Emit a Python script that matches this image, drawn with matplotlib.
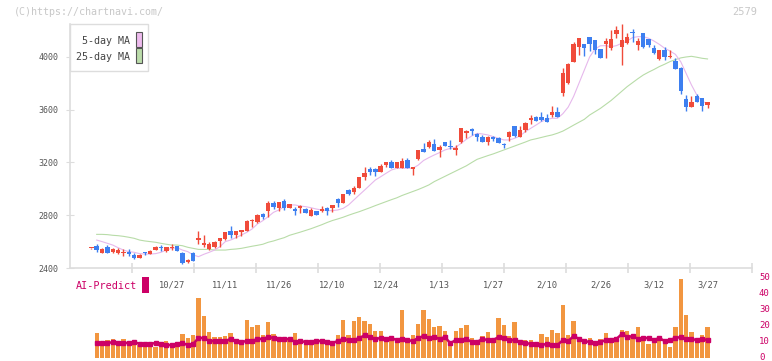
import numpy as np
import matplotlib
matplotlib.use('Agg')
import matplotlib.pyplot as plt
from matplotlib.patches import Rectangle
from matplotlib.transforms import ScaledTranslation

plt.rcParams['font.family'] = 'DejaVu Sans Mono'

# OHLC por dia (116 pregoes)
opens = [2548, 2567, 2516, 2562, 2524, 2516, 2511, 2524, 2499, 2478,
         2518, 2506, 2536, 2557, 2531, 2554, 2567, 2516, 2448, 2511,
         2612, 2574, 2544, 2562, 2605, 2617, 2680, 2650, 2675, 2680,
         2754, 2746, 2809, 2832, 2890, 2852, 2908, 2852, 2845, 2852,
         2847, 2797, 2835, 2835, 2852, 2857, 2923, 2895, 2991, 2979,
         3004, 3092, 3148, 3148, 3130, 3181, 3206, 3156, 3161, 3219,
         3148, 3224, 3302, 3315, 3340, 3295, 3358, 3328, 3295, 3353,
         3426, 3451, 3416, 3396, 3358, 3391, 3383, 3340, 3391, 3477,
         3396, 3446, 3522, 3548, 3543, 3540, 3560, 3585, 3730, 3800,
         3965, 4078, 4099, 4149, 4129, 4061, 4096, 4066, 4174, 4078,
         4109, 4192, 4091, 4179, 4137, 4071, 3985, 4053, 4000, 3970,
         3919, 3681, 3623, 3704, 3686, 3636]
highs = [2550, 2582, 2554, 2574, 2554, 2549, 2544, 2544, 2511, 2506,
         2524, 2536, 2567, 2574, 2562, 2579, 2567, 2524, 2468, 2524,
         2680, 2650, 2600, 2605, 2630, 2675, 2718, 2680, 2688, 2764,
         2769, 2807, 2814, 2908, 2908, 2898, 2923, 2885, 2865, 2878,
         2852, 2852, 2835, 2870, 2865, 2878, 2933, 2961, 2999, 3022,
         3092, 3163, 3163, 3161, 3189, 3206, 3219, 3206, 3232, 3232,
         3168, 3295, 3345, 3371, 3376, 3333, 3358, 3371, 3333, 3464,
         3446, 3464, 3426, 3409, 3401, 3401, 3396, 3345, 3439, 3477,
         3477, 3510, 3560, 3553, 3585, 3565, 3628, 3623, 3914, 3952,
         4116, 4142, 4099, 4149, 4129, 4061, 4142, 4205, 4235, 4250,
         4179, 4210, 4142, 4179, 4137, 4091, 4053, 4073, 4053, 3990,
         3927, 3712, 3704, 3717, 3686, 3661]
lows = [2546, 2524, 2516, 2516, 2511, 2506, 2491, 2491, 2466, 2473,
        2499, 2506, 2536, 2531, 2519, 2536, 2531, 2430, 2435, 2455,
        2580, 2562, 2536, 2549, 2562, 2612, 2630, 2630, 2643, 2680,
        2713, 2739, 2771, 2789, 2847, 2835, 2840, 2852, 2802, 2819,
        2819, 2797, 2802, 2822, 2802, 2822, 2865, 2895, 2954, 2961,
        3004, 3067, 3105, 3100, 3125, 3168, 3156, 3156, 3161, 3161,
        3105, 3219, 3282, 3307, 3290, 3244, 3328, 3300, 3257, 3350,
        3388, 3409, 3363, 3358, 3333, 3366, 3345, 3312, 3366, 3396,
        3396, 3434, 3492, 3517, 3515, 3510, 3548, 3548, 3704, 3795,
        3965, 4015, 4008, 4048, 4020, 3990, 3995, 4053, 4142, 3939,
        4096, 4116, 4053, 4066, 4078, 4020, 3977, 3977, 3995, 3909,
        3717, 3590, 3623, 3656, 3590, 3616]
closes = [2550, 2537, 2544, 2516, 2544, 2536, 2524, 2506, 2473, 2499,
          2514, 2531, 2562, 2549, 2562, 2562, 2531, 2440, 2461, 2455,
          2630, 2587, 2582, 2600, 2630, 2670, 2650, 2680, 2688, 2756,
          2758, 2802, 2789, 2890, 2860, 2898, 2852, 2885, 2835, 2870,
          2819, 2840, 2802, 2847, 2835, 2878, 2895, 2961, 2961, 3009,
          3092, 3123, 3130, 3125, 3176, 3206, 3161, 3206, 3211, 3161,
          3168, 3295, 3282, 3358, 3290, 3315, 3328, 3315, 3312, 3459,
          3441, 3441, 3396, 3358, 3396, 3378, 3350, 3330, 3429, 3401,
          3446, 3502, 3540, 3517, 3522, 3510, 3585, 3548, 3881, 3947,
          4099, 4142, 4071, 4099, 4053, 3990, 4121, 4137, 4205, 4129,
          4149, 4179, 4121, 4078, 4091, 4028, 4053, 4002, 4007, 3909,
          3742, 3618, 3656, 3661, 3631, 3656]

nan = np.nan
ma5 = [nan, 2612, 2600, 2587, 2574, 2554, 2536, 2524, 2519, 2509,
       2506, 2506, 2509, 2519, 2536, 2549, 2554, 2536, 2524, 2499,
       2486, 2504, 2519, 2536, 2562, 2600, 2612, 2630, 2650, 2670,
       2696, 2734, 2759, 2789, 2822, 2840, 2865, 2878, 2878, 2870,
       2865, 2857, 2847, 2840, 2835, 2835, 2840, 2852, 2878, 2916,
       2954, 2991, 3029, 3067, 3092, 3118, 3143, 3156, 3156, 3156,
       3156, 3180, 3215, 3237, 3257, 3275, 3295, 3307, 3315, 3345,
       3376, 3401, 3421, 3416, 3409, 3396, 3383, 3371, 3371, 3383,
       3401, 3434, 3459, 3484, 3510, 3527, 3535, 3535, 3570, 3620,
       3700, 3800, 3900, 4000, 4060, 4085, 4086, 4078, 4086, 4104,
       4121, 4147, 4154, 4154, 4142, 4121, 4096, 4066, 4045, 4020,
       3964, 3876, 3788, 3712, 3661, 3650]
ma25 = [nan, 2655, 2655, 2653, 2648, 2645, 2640, 2633, 2625, 2612,
        2605, 2600, 2595, 2587, 2580, 2574, 2574, 2569, 2557, 2549,
        2541, 2541, 2541, 2536, 2536, 2536, 2541, 2544, 2549, 2557,
        2565, 2572, 2580, 2595, 2605, 2618, 2630, 2648, 2660, 2672,
        2685, 2698, 2713, 2728, 2745, 2760, 2772, 2785, 2800, 2814,
        2827, 2842, 2857, 2873, 2888, 2903, 2918, 2932, 2950, 2965,
        2980, 2995, 3012, 3030, 3055, 3075, 3095, 3115, 3135, 3155,
        3175, 3200, 3224, 3238, 3252, 3265, 3280, 3295, 3310, 3325,
        3340, 3355, 3371, 3380, 3390, 3400, 3409, 3422, 3438, 3460,
        3483, 3505, 3527, 3560, 3585, 3610, 3640, 3670, 3705, 3740,
        3775, 3805, 3835, 3863, 3885, 3905, 3927, 3945, 3965, 3980,
        3993, 4000, 4005, 3998, 3990, 3985]

volume = [nan, 15.6, 9.2, 11.2, 11.9, 10, 11.9, 10.6, 10, 8, 8.5,
          8.5, 6.9, 8.8, 10.6, 7.5, 8, 15, 12.5, 14.4, 37.5,
          26.2, 16.2, 13, 13, 13.7, 15.6, 11.2, 9.2, 23.7, 19.4,
          20.6, 14.4, 22.5, 15, 11.2, 11.9, 12.5, 15.6, 11.2, 10.6,
          11.2, 10.6, 10.6, 9.8, 9.2, 14.4, 23.7, 14.4, 23.1, 25.6,
          23.1, 21.2, 16.9, 16.9, 13, 11.9, 11.2, 30, 11.2, 14.4,
          21.2, 30, 24.4, 19.4, 20, 16.9, 10, 16.9, 18.7, 20.6,
          12.5, 10.2, 13.7, 16.2, 11.2, 25, 20.6, 13.7, 22.5, 11.2,
          11.2, 11.2, 8.8, 15, 13, 17.5, 15.6, 33.1, 14.4, 23.1,
          13, 11.9, 12.5, 8.8, 11.9, 15.6, 11.9, 11.2, 17.5, 16.9,
          13, 19.4, 11.2, 8.8, 9.4, 11.9, 8.8, 6.9, 19.4, 49.4,
          26.9, 16.2, 11.2, 14.4, 19.4]
ai_predict = [nan, 9.2, 9.2, 9.2, 10, 9.4, 9.4, 9.4, 10, 8.8, 8.8,
              8.8, 9.4, 8.8, 8.1, 8.1, 8.8, 9.4, 8.1, 8.8, 12.5,
              12.5, 10.6, 10.6, 10.6, 10.6, 11.9, 10.6, 10, 10.6, 10.6,
              11.9, 11.9, 13.1, 12.5, 11.9, 11.9, 11.9, 10, 10.6, 10,
              10, 10.6, 10.6, 10, 9.4, 10.6, 11.9, 11.2, 11.2, 12.5,
              14.1, 13.1, 11.9, 12.5, 11.9, 12.5, 11.2, 11.9, 11.2, 10.6,
              12.5, 13.7, 12.5, 13.1, 11.9, 13.1, 9.2, 11.2, 11.2, 11.9,
              10, 10, 11.9, 11.2, 11.2, 13.1, 12.5, 11.2, 11.2, 10,
              9.4, 8.8, 8.8, 8.1, 8.8, 8.1, 8.1, 11.2, 10.6, 13.7,
              11.9, 10.6, 10, 9.4, 10, 11.2, 11.2, 11.9, 15, 13.1,
              13.7, 11.9, 12.5, 12.5, 11.2, 12.5, 10.6, 11.2, 12.5, 13.1,
              11.9, 11.9, 11.2, 11.9, 11.2]

date_labels = ['10/27', '11/11', '11/26', '12/10', '12/24', '1/13',
               '1/27', '2/10', '2/26', '3/12', '3/27']

W, H = 772, 361
fig = plt.figure(figsize=(W / 100, H / 100), dpi=100)
fig.patch.set_facecolor('white')

ax = fig.add_axes([70 / W, (H - 268) / H, 682 / W, 244 / H])
axv = fig.add_axes([70 / W, 3 / H, 682 / W, 80 / H])

x = np.arange(len(closes))
o = np.array(opens, float)
c = np.array(closes, float)
up = c >= o
cores = np.where(up, '#f04b3a', '#3d7ff0')

# medias moveis
ax.plot(x, ma25, color='#b8dca8', lw=0.8, zorder=1)
ax.plot(x, ma5, color='#e6b8ec', lw=0.8, zorder=1)

# candles
ax.vlines(x, lows, highs, colors=cores, lw=1, zorder=2)
corpo = np.maximum(np.abs(c - o), 8)
ax.bar(x, corpo, bottom=np.minimum(o, c), width=0.82, color=cores, lw=0, zorder=3)

xmin, xmax = -3.98, 123.3
ax.set_xlim(xmin, xmax)
ax.set_ylim(2400, 4250)
for s in ['top', 'right']:
    ax.spines[s].set_visible(False)
for s in ['left', 'bottom']:
    ax.spines[s].set_color('#dddddd')
    ax.spines[s].set_linewidth(1.2)

ax.set_yticks([2400, 2800, 3200, 3600, 4000])
ax.tick_params(axis='y', direction='inout', length=6, color='#dddddd',
               labelsize=6, labelcolor='#555555', pad=5)
pos = list(range(len(closes) - 1 - 10 * (len(date_labels) - 1), len(closes), 10))
ax.set_xticks(pos)
ax.set_xticklabels(date_labels)
ax.tick_params(axis='x', which='major', length=0, labelsize=6.3,
               labelcolor='#555555', pad=9)
ax.set_xticks([xmin + (xmax - xmin) * k / 11 for k in range(1, 12)], minor=True)
ax.tick_params(axis='x', which='minor', direction='inout', length=7,
               color='#dddddd', width=1.2)

# volume + AI
axv.bar(x, volume, width=0.8, color='#f29640', lw=0)
axv.plot(x, ai_predict, color='#cc0066', lw=1.8, marker='s', ms=2.2,
         mec='#cc0066', mfc='#cc0066')
axv.set_xlim(xmin, xmax)
axv.set_ylim(0, 50)
axv.set_xticks([])
axv.yaxis.tick_right()
axv.set_yticks([0, 10, 20, 30, 40, 50])
axv.tick_params(axis='y', length=0, labelsize=6.5, labelcolor='#cc0066', pad=5)
for lbl in axv.get_yticklabels():
    lbl.set_transform(lbl.get_transform() + ScaledTranslation(0, 2 / 100, fig.dpi_scale_trans))
for s in axv.spines.values():
    s.set_visible(False)
axv.patch.set_alpha(0)

# textos
fig.text(14 / W, 1 - 12 / H, '(C)https://chartnavi.com/', color='#c8c8c8',
         fontsize=7.2, va='center', ha='left')
fig.text(757 / W, 1 - 12 / H, '2579', color='#c8c8c8', fontsize=7.5,
         va='center', ha='right')

# legenda
fig.patches.append(Rectangle((70 / W, 1 - 71 / H), 78 / W, 47 / H,
                             transform=fig.transFigure, fc='white',
                             ec='#dddddd', lw=1, zorder=5))
fig.text(130 / W, 1 - 41 / H, '5-day MA', ha='right', va='center',
         fontsize=7.2, color='#444444', zorder=6)
fig.text(130 / W, 1 - 57 / H, '25-day MA', ha='right', va='center',
         fontsize=7.2, color='#444444', zorder=6)
fig.patches.append(Rectangle((136 / W, 1 - 47 / H), 6 / W, 15 / H,
                             transform=fig.transFigure, fc='#eebbee',
                             ec='#555555', lw=0.8, zorder=6))
fig.patches.append(Rectangle((136 / W, 1 - 63 / H), 6 / W, 15 / H,
                             transform=fig.transFigure, fc='#bbdcaa',
                             ec='#555555', lw=0.8, zorder=6))

fig.text(76 / W, 1 - 286 / H, 'AI-Predict', color='#cc0066', fontsize=7.3,
         va='center', ha='left')
fig.patches.append(Rectangle((142 / W, 1 - 293 / H), 7 / W, 16 / H,
                             transform=fig.transFigure, fc='#cc0066',
                             ec='none', zorder=6))

fig.savefig('out.png', dpi=100)
